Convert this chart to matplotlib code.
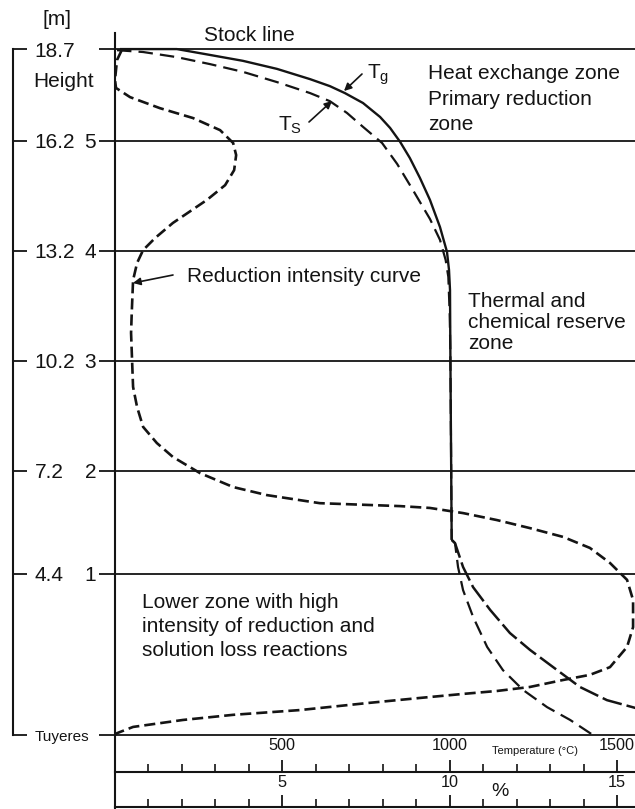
import matplotlib
matplotlib.use("Agg")
import matplotlib.pyplot as plt
from matplotlib.ticker import MultipleLocator

plt.rcParams['font.family'] = ['Liberation Sans', 'DejaVu Sans']
plt.rcParams['mathtext.fontset'] = 'custom'
plt.rcParams['mathtext.rm'] = 'Liberation Sans'

# furnace levels [m] and their zone numbers
levels = [0.0, 4.4, 7.2, 10.2, 13.2, 16.2, 18.7]
level_names = ['Tuyeres', '4.4', '7.2', '10.2', '13.2', '16.2', '18.7']
zone_numbers = ['', '1', '2', '3', '4', '5', '']

# gas temperature Tg (upper part solid, lower part long dash)
tg_height = [18.70, 18.70, 18.54, 18.38, 18.16, 17.88, 17.69, 17.50, 17.23, 16.85,
             16.55, 16.17, 15.73, 15.19, 14.59, 13.85, 13.17, 12.68, 12.13, 10.50, 5.32]
tg_temp = [15, 185, 284, 382, 484, 583, 642, 687, 741, 792,
           822, 852, 881, 911, 941, 971, 992, 998, 1001, 1002, 1006]
tg_low_height = [5.32, 5.23, 4.58, 4.03, 3.41, 2.78, 2.32, 1.77, 1.31, 0.95, 0.74, 0.50]
tg_low_temp = [1006, 1016, 1040, 1070, 1121, 1180, 1240, 1321, 1389, 1470, 1554, 1650]

# solid temperature Ts
ts_height = [18.67, 18.62, 18.48, 18.29, 18.08, 17.80, 17.50, 17.28, 16.96, 16.58,
             16.14, 15.57, 14.86, 14.07, 13.50, 12.95, 12.49, 11.50, 10.50, 5.32]
ts_temp = [6, 84, 185, 284, 382, 484, 583, 642, 693, 741,
           798, 843, 890, 941, 971, 988, 996, 1000, 1002, 1006]
ts_low_height = [5.32, 5.23, 4.58, 3.95, 3.22, 2.40, 1.77, 1.23, 0.76, 0.41, 0.00]
ts_low_temp = [1006, 1016, 1025, 1040, 1070, 1112, 1159, 1219, 1291, 1360, 1428]

# reduction intensity curve [%]
red_height = [18.67, 18.40, 17.86, 17.64, 17.39, 17.09, 16.82, 16.49, 16.14, 15.81,
              15.40, 14.99, 14.59, 13.96, 13.55, 13.22, 12.87, 12.40, 11.50, 10.96,
              10.22, 9.49, 8.94, 8.40, 7.96, 7.58, 7.14, 6.76, 6.54, 6.32,
              6.24, 6.19, 6.05, 5.86, 5.64, 5.40, 5.10, 4.69, 4.23, 3.68,
              2.94, 2.40, 1.85, 1.64, 1.50, 1.31, 1.20, 1.12, 1.01, 0.87,
              0.68, 0.55, 0.41, 0.22, 0.05, 0.00]
red_pct = [0.20, 0.06, 0.00, 0.03, 0.45, 1.34, 2.33, 3.14, 3.53, 3.62,
           3.56, 3.29, 2.75, 1.73, 1.20, 0.84, 0.66, 0.54, 0.50, 0.48,
           0.51, 0.54, 0.66, 0.84, 1.25, 1.73, 2.54, 3.53, 4.54, 6.12,
           8.52, 9.41, 10.40, 11.41, 12.40, 13.39, 14.19, 14.79, 15.30, 15.48,
           15.48, 15.30, 14.79, 14.19, 13.39, 12.40, 11.41, 10.40, 9.11, 7.53,
           5.53, 3.53, 2.03, 0.54, 0.06, 0.00]

W, H = 635, 809


def fx(px):
    return px / W


def fy(py):
    return 1 - py / H


px_per_m = 36.68
t_per_px = 2.988
ink = '#141414'

fig = plt.figure(figsize=(6.35, 8.09), dpi=100)

# main axes
ax = fig.add_axes([fx(115), 0, fx(635) - fx(115), (809 - 33) / H])
ax.set_ylim((735 - 809) / px_per_m, (735 - 33) / px_per_m)
ax.set_xlim(0, (635 - 115) * t_per_px)
for s in ['top', 'right', 'bottom']:
    ax.spines[s].set_visible(False)
ax.spines['left'].set_linewidth(1.5)
ax.spines['left'].set_color(ink)
ax.set_xticks([])
ax.set_yticks(levels)
ax.set_yticklabels(zone_numbers)
ax.tick_params(axis='y', direction='out', length=11.5, width=1.3, pad=2,
               labelsize=15, color=ink, labelcolor=ink)
for h in levels:
    ax.axhline(h, color=ink, lw=1.3, zorder=1)

ax.plot(tg_temp, tg_height, color=ink, lw=1.7, solid_capstyle='butt',
        solid_joinstyle='round', zorder=3)
ax.plot(tg_low_temp, tg_low_height, color=ink, lw=1.8, dashes=(8, 2), zorder=3)
ax.plot(ts_temp, ts_height, color=ink, lw=1.6, dashes=(6.5, 3.2), zorder=3)
ax.plot(ts_low_temp, ts_low_height, color=ink, lw=1.6, dashes=(6.5, 3.2), zorder=3)

ax_r = ax.twiny()
ax_r.set_xlim(0, (635 - 115) * t_per_px / 100)
ax_r.set_axis_off()
ax_r.plot(red_pct, red_height, color=ink, lw=1.9, dashes=(4.2, 1.9))

# left height bracket
ax_h = fig.add_axes([0, 0, fx(13), (809 - 33) / H])
ax_h.set_ylim(ax.get_ylim())
ax_h.patch.set_visible(False)
for s in ['top', 'left', 'bottom']:
    ax_h.spines[s].set_visible(False)
ax_h.spines['right'].set_bounds(0, 18.7)
ax_h.spines['right'].set_linewidth(1.5)
ax_h.spines['right'].set_color(ink)
ax_h.set_xticks([])
ax_h.yaxis.tick_right()
ax_h.set_yticks(levels)
ax_h.set_yticklabels(level_names)
ax_h.tick_params(axis='y', direction='out', length=10, width=1.3, pad=5.5,
                 labelsize=15, color=ink, labelcolor=ink)
ax_h.get_yticklabels()[0].set_fontsize(11)


# bottom scales
def bottom_scale(py, vmax, majors, minor_step, labels, pad):
    a = fig.add_axes([fx(115), fy(py), fx(635) - fx(115), 1e-4])
    a.patch.set_visible(False)
    for s in ['bottom', 'left', 'right']:
        a.spines[s].set_visible(False)
    a.spines['top'].set_linewidth(1.5)
    a.spines['top'].set_color(ink)
    a.set_xlim(0, vmax)
    a.set_yticks([])
    a.xaxis.set_ticks_position('top')
    a.xaxis.set_label_position('top')
    a.set_xticks(majors)
    a.set_xticklabels(labels)
    a.xaxis.set_minor_locator(MultipleLocator(minor_step))
    a.tick_params(axis='x', which='major', direction='out', length=8.5, width=1.3,
                  pad=pad, labelsize=11.7, color=ink, labelcolor=ink)
    a.tick_params(axis='x', which='minor', direction='out', length=6, width=1.2,
                  color=ink)
    return a


temp_max = (635 - 115) * t_per_px
bottom_scale(772, temp_max, [500, 1000, 1500], 100, ['500', '1000', '1500'], 5)
bottom_scale(807, temp_max / 100, [5, 10, 15], 1, ['5', '10', '15'], 3.5)

# texts
txt = dict(fontsize=15, color=ink, va='baseline', ha='left')
fig.text(fx(43), fy(25), '[m]', **txt)
fig.text(fx(204), fy(41), 'Stock line', **txt)
fig.text(fx(33), fy(87), 'Height', **txt)
fig.text(fx(428), fy(79), 'Heat exchange zone', **txt)
fig.text(fx(428), fy(105), 'Primary reduction', **txt)
fig.text(fx(428), fy(130), 'zone', **txt)
fig.text(fx(187), fy(282), 'Reduction intensity curve', **txt)
fig.text(fx(468), fy(307), 'Thermal and', **txt)
fig.text(fx(468), fy(328), 'chemical reserve', **txt)
fig.text(fx(468), fy(349), 'zone', **txt)
fig.text(fx(142), fy(608), 'Lower zone with high', **txt)
fig.text(fx(142), fy(632), 'intensity of reduction and', **txt)
fig.text(fx(142), fy(656), 'solution loss reactions', **txt)
fig.text(fx(367), fy(78), r'T$_{\rm g}$', **txt)
fig.text(fx(278), fy(130), r'T$_{\rm S}$', **txt)
fig.text(fx(535), fy(751), 'Temperature (°C)', fontsize=8, color=ink,
         ha='center', va='center')
fig.text(fx(500), fy(791), '%', fontsize=14, color=ink, ha='center', va='center')

arrow = dict(arrowstyle='-|>', color=ink, lw=1.2, mutation_scale=11,
             shrinkA=0, shrinkB=0)
for tail, head in [((362, 74), (344, 91)), ((309, 122), (332, 101)),
                   ((173, 275), (133, 283))]:
    ax.annotate('', xy=(fx(head[0]), fy(head[1])), xycoords='figure fraction',
                xytext=(fx(tail[0]), fy(tail[1])), textcoords='figure fraction',
                arrowprops=arrow)

fig.savefig('out.png', dpi=100)
